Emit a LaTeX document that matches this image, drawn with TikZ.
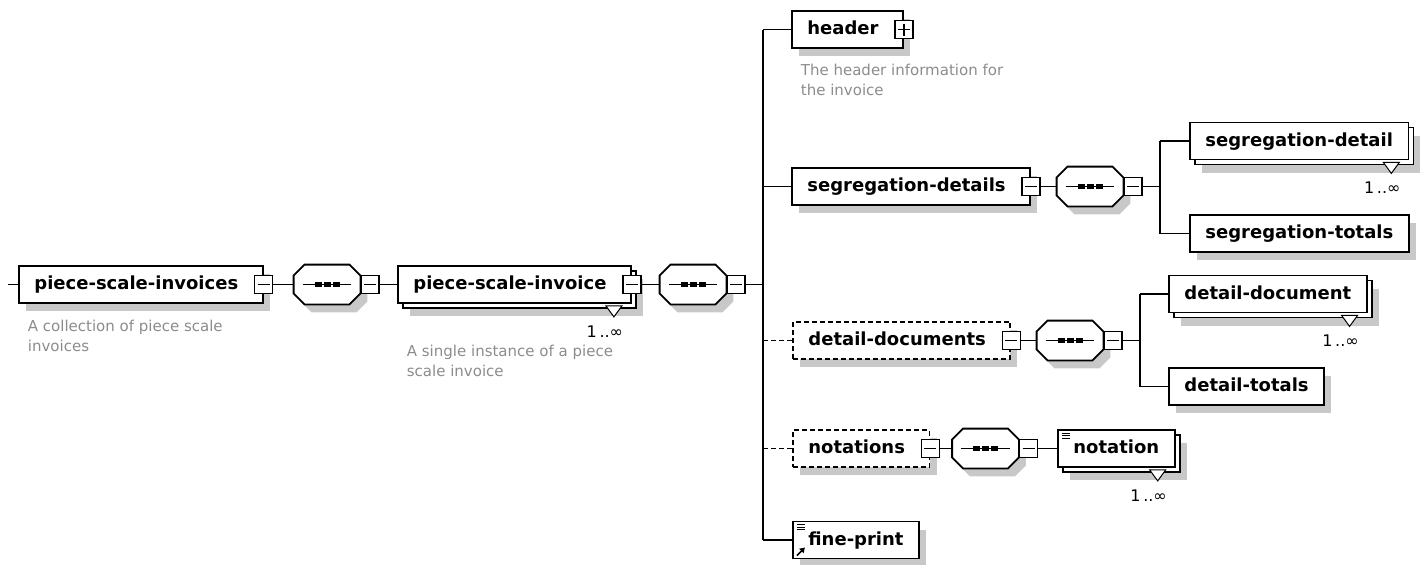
\documentclass[tikz,border=0pt]{standalone}
\usepackage{fontspec}
\setmainfont{DejaVu Sans}
\usepackage{tikz}
\usetikzlibrary{calc}
\usetikzlibrary{shadows}
\usetikzlibrary{arrows.meta}

\definecolor{shadowgray}{RGB}{200,200,200}
\definecolor{descgray}{RGB}{140,140,140}
\newcommand{\btngap}{\hspace*{9pt}}
\newcommand{\octo}[1]{%
  \draw [seqline] ([yshift=9pt]#1.west) -- ([xshift=11pt]#1.north west) -- ([xshift=-11pt]#1.north east)
    -- ([yshift=9pt]#1.east) -- ([yshift=-9pt]#1.east) -- ([xshift=-11pt]#1.south east)
    -- ([xshift=11pt]#1.south west) -- ([yshift=-9pt]#1.west) -- cycle;
  \draw ([xshift=9pt]#1.west) -- ([xshift=-9pt]#1.east);
  \foreach \k in {-9,0,9}
    \fill ([xshift=\k pt]#1.center) +(-3.5,-2.5) rectangle +(3.5,2.5);
}

\tikzset{
  shad/.style={drop shadow={shadow xshift=7pt, shadow yshift=-8pt, fill=shadowgray, opacity=1}},
  box/.style={draw, fill=white, anchor=west, minimum height=37pt, inner xsep=15.5pt, inner ysep=0pt,
    text height=14pt, text depth=3.6pt, font=\fontsize{18}{22}\selectfont\bfseries},
  elem/.style={box, shad},
  opt/.style={box, shad, dash pattern=on 5pt off 3pt},
  multi/.style={box, drop shadow={shadow xshift=12pt, shadow yshift=-13pt, fill=shadowgray, opacity=1},
    copy shadow={shadow xshift=5pt, shadow yshift=-5pt, draw, fill=white}},
  btn/.style={draw, fill=white, minimum size=18pt, inner sep=0pt, line width=1.5pt,
    path picture={\draw ([xshift=3pt]path picture bounding box.west) -- ([xshift=-3pt]path picture bounding box.east);}},
  plusbtn/.style={btn, path picture={
    \draw ([xshift=3pt]path picture bounding box.west) -- ([xshift=-3pt]path picture bounding box.east);
    \draw ([yshift=-3pt]path picture bounding box.north) -- ([yshift=3pt]path picture bounding box.south);}},
  seq/.style={minimum width=65pt, minimum height=38pt, inner sep=0pt},
  seqline/.style={draw, fill=white, shad},
  desc/.style={anchor=north west, inner sep=0pt, align=left, text=descgray, font=\fontsize{15}{20}\selectfont},
  card/.style={anchor=north east, inner sep=0pt, font=\fontsize{16}{19}\selectfont},
  txticon/.style={path picture={
    \foreach \d in {3,5.5,8}
      \draw[line width=1pt] ([xshift=4pt,yshift=-\d pt]path picture bounding box.north west) -- ++(8,0);}},
  reficon/.style={path picture={
    \foreach \d in {3,5.5,8}
      \draw[line width=1pt] ([xshift=4pt,yshift=-\d pt]path picture bounding box.north west) -- ++(8,0);
    \draw[-{Triangle[length=5pt,width=6pt]}, line width=1.6pt]
      ([xshift=4pt,yshift=3pt]path picture bounding box.south west) -- ++(8,-8);}}
}

\begin{document}
\begin{tikzpicture}[x=1pt, y=-1pt, line width=1.8pt]

  \useasboundingbox (0,0) rectangle (1422,565);

  % root element and its sequence
  \coordinate (root) at (8,284.5);
  \node[elem] (psis) at (18,284.5) {piece-scale-invoices\btngap};
  \node[btn] (psisb) at (psis.east) {};
  \node[seq] (sq1) at (327,284.5) {};
  \octo{sq1}
  \node[btn, anchor=west] (sq1b) at (sq1.east) {};
  \node[multi] (psi) at (397,284.5) {piece-scale-invoice\btngap};
  \node[btn] (psib) at (psi.east) {};
  \node[seq] (sq2) at (693,284.5) {};
  \octo{sq2}
  \node[btn, anchor=west] (sq2b) at (sq2.east) {};
  \coordinate (bus) at (763,0);

  % children of piece-scale-invoice
  \node[elem] (header) at (791,29.5) {header\btngap};
  \node[plusbtn] (headerb) at (header.east) {};
  \node[elem] (segdets) at (791,186.5) {segregation-details\btngap};
  \node[btn] (segdetsb) at (segdets.east) {};
  \node[seq] (sq3) at (1090,186.5) {};
  \octo{sq3}
  \node[btn, anchor=west] (sq3b) at (sq3.east) {};
  \coordinate (bus2) at (1160,0);
  \node[multi] (segdet) at (1189,141) {segregation-detail};
  \node[elem] (segtot) at (1189,233.5) {segregation-totals};

  \node[opt] (detdocs) at (792,340.5) {detail-documents\btngap};
  \node[btn] (detdocsb) at (detdocs.east) {};
  \node[seq] (sq4) at (1070,340.5) {};
  \octo{sq4}
  \node[btn, anchor=west] (sq4b) at (sq4.east) {};
  \coordinate (bus3) at (1140,0);
  \node[multi] (detdoc) at (1168,294) {detail-document};
  \node[elem] (dettot) at (1168,386.5) {detail-totals};

  \node[opt] (notations) at (792,448.5) {notations\btngap};
  \node[btn] (notationsb) at (notations.east) {};
  \node[seq] (sq5) at (985.5,448.5) {};
  \octo{sq5}
  \node[btn, anchor=west] (sq5b) at (sq5.east) {};
  \node[multi, txticon] (notation) at (1057,448.5) {notation};

  \node[elem, reficon] (fine) at (792,540) {fine-print};

  % annotations
  \node[desc] (psisd) at (27,319.6) {A collection of piece scale\\invoices};
  \node[desc] (psid) at (406,344.6) {A single instance of a piece\\scale invoice};
  \node[desc] (headerd) at (800,63.6) {The header information for\\the invoice};

  % occurrence marks
  \foreach \n in {psi,segdet,detdoc,notation} {
    \draw[fill=white, line width=1pt] ([xshift=-26pt,yshift=-2pt]\n.south east) -- ++(16,0) -- ++(-8,11) -- cycle;
    \node[card] (\n-card) at ([xshift=-8pt,yshift=-21pt]\n.south east) {1\,..∞};
  }

  % connectors
  \draw (root) -- (psis.west);
  \draw (psisb.east) -- (sq1.west);
  \draw (sq1b.east) -- (psi.west);
  \draw (psib.east) -- (sq2.west);
  \draw (sq2b.east) -- (bus |- sq2b.east);
  \draw (bus |- header.west) -- (bus |- fine.west);
  \foreach \n in {header,segdets,fine}
    \draw (bus |- \n.west) -- (\n.west);
  \foreach \n in {detdocs,notations}
    \draw[dash pattern=on 5pt off 3pt] (bus |- \n.west) -- (\n.west);

  \draw (segdetsb.east) -- (sq3.west);
  \draw (sq3b.east) -- (bus2 |- sq3b.east);
  \draw (bus2 |- segdet.west) -- (bus2 |- segtot.west);
  \foreach \n in {segdet,segtot}
    \draw (bus2 |- \n.west) -- (\n.west);

  \draw (detdocsb.east) -- (sq4.west);
  \draw (sq4b.east) -- (bus3 |- sq4b.east);
  \draw (bus3 |- detdoc.west) -- (bus3 |- dettot.west);
  \foreach \n in {detdoc,dettot}
    \draw (bus3 |- \n.west) -- (\n.west);

  \draw (notationsb.east) -- (sq5.west);
  \draw (sq5b.east) -- (notation.west);

\end{tikzpicture}
\end{document}
